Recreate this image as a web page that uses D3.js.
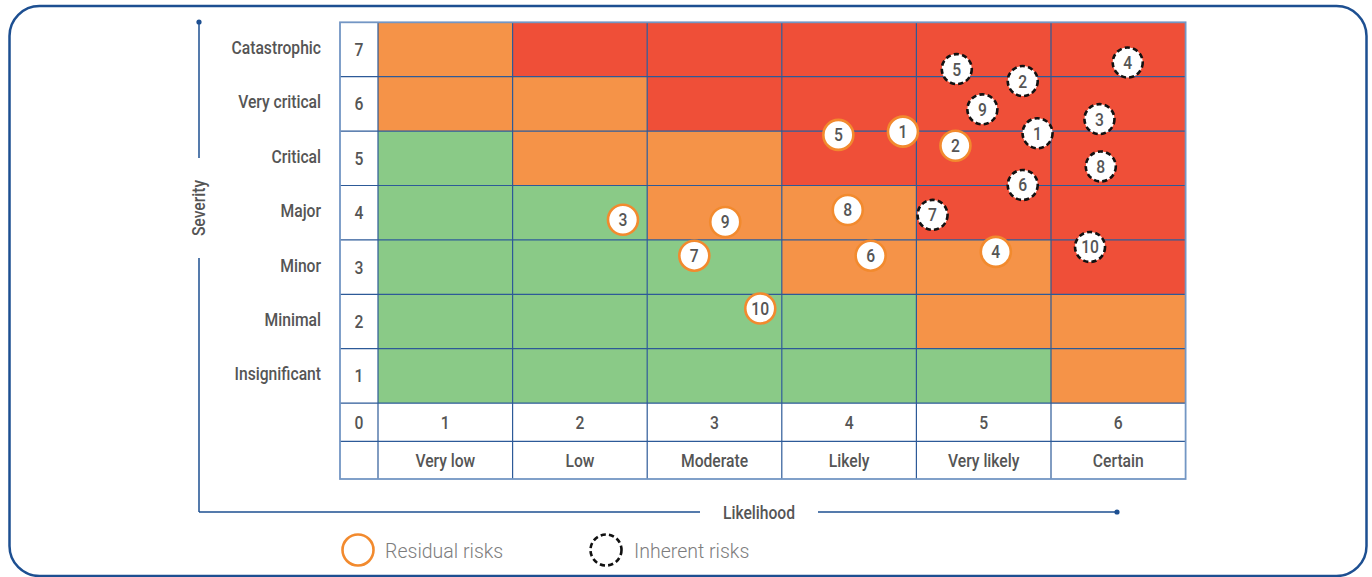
<!DOCTYPE html>
<html>
<head>
<meta charset="utf-8">
<script src="https://cdn.jsdelivr.net/npm/d3@7"></script>
<style>
  html, body { margin: 0; padding: 0; background: #fff; }
  svg { display: block; }
  text { font-family: "Roboto", "Liberation Sans", sans-serif; }
</style>
</head>
<body>
<svg id="chart" width="1372" height="577"></svg>
<script>
// Axis categories
const likelihoodLevels = [1, 2, 3, 4, 5, 6];
const likelihoodLabels = ["Very low", "Low", "Moderate", "Likely", "Very likely", "Certain"];
const severityLevels = [1, 2, 3, 4, 5, 6, 7];
const severityLabels = ["Insignificant", "Minimal", "Minor", "Major", "Critical", "Very critical", "Catastrophic"];

// Risk zone per cell, severity 1 (bottom) to 7 (top), likelihood 1..6
const zoneRows = [
  ["low", "low", "low", "low", "low", "medium"],
  ["low", "low", "low", "low", "medium", "medium"],
  ["low", "low", "low", "medium", "medium", "high"],
  ["low", "low", "medium", "medium", "high", "high"],
  ["low", "medium", "medium", "high", "high", "high"],
  ["medium", "medium", "high", "high", "high", "high"],
  ["medium", "high", "high", "high", "high", "high"]
];

// Residual risks (after mitigation)
const residualIds = [1, 2, 3, 4, 5, 6, 7, 8, 9, 10];
const residualLikelihood = [4.40, 4.79, 2.32, 5.09, 3.92, 4.16, 2.85, 3.99, 3.08, 3.34];
const residualSeverity = [5.49, 5.23, 3.87, 3.28, 5.43, 3.21, 3.21, 4.05, 3.83, 2.24];

// Inherent risks (before mitigation)
const inherentIds = [1, 2, 3, 4, 5, 6, 7, 8, 9, 10];
const inherentLikelihood = [5.40, 5.29, 5.86, 6.07, 4.80, 5.29, 4.62, 5.87, 4.99, 5.79];
const inherentSeverity = [5.46, 6.42, 5.72, 6.76, 6.64, 4.51, 3.96, 4.85, 5.90, 3.37];

const zoneColor = { low: "#8aca87", medium: "#f59348", high: "#ef4f38" };
const navy = "#1d4f91";
const gridLine = "#2d5a98";
const textGray = "#555";

const svg = d3.select("#chart");

// Condensed-looking label: text squeezed horizontally around its anchor
function label(parent, px, py, str, opts = {}) {
  const sx = opts.sx ?? 0.87;
  return parent.append("text")
    .attr("transform", `translate(${px},${py}) scale(${sx},1)`)
    .attr("text-anchor", opts.anchor ?? "middle")
    .attr("dy", "0.36em")
    .attr("font-size", opts.size ?? 18)
    .attr("font-weight", opts.weight ?? 500)
    .attr("fill", opts.fill ?? textGray)
    .text(str);
}

// Outer rounded frame
svg.append("rect")
  .attr("x", 9.5).attr("y", 6).attr("width", 1357).attr("height", 570)
  .attr("rx", 30).attr("ry", 30)
  .attr("fill", "none").attr("stroke", navy).attr("stroke-width", 2.5);

const gridLeft = 378, gridRight = 1185.6, gridTop = 22.3, gridBottom = 403.1;
const numColLeft = 340;
const numRowBottom = 441.3, labelRowBottom = 479;

const x = d3.scaleLinear().domain([0.5, 6.5]).range([gridLeft, gridRight]);
const y = d3.scaleLinear().domain([0.5, 7.5]).range([gridBottom, gridTop]);

// Zone cells
const cells = [];
zoneRows.forEach((row, si) => row.forEach((z, li) => cells.push({ s: severityLevels[si], l: likelihoodLevels[li], z })));
svg.append("g").selectAll("rect").data(cells).join("rect")
  .attr("x", d => x(d.l - 0.5))
  .attr("y", d => y(d.s + 0.5))
  .attr("width", d => x(d.l + 0.5) - x(d.l - 0.5))
  .attr("height", d => y(d.s - 0.5) - y(d.s + 0.5))
  .attr("fill", d => zoneColor[d.z]);

// Grid lines
const lines = svg.append("g").attr("stroke-width", 1.2).attr("fill", "none").attr("stroke", gridLine);
[gridLeft, ...likelihoodLevels.slice(0, -1).map(l => x(l + 0.5))].forEach(xx => {
  lines.append("line").attr("x1", xx).attr("x2", xx).attr("y1", gridTop).attr("y2", labelRowBottom);
});
[...severityLevels.slice(0, -1).map(s => y(s + 0.5)), gridBottom, numRowBottom].forEach(yy => {
  lines.append("line").attr("x1", numColLeft).attr("x2", gridRight).attr("y1", yy).attr("y2", yy);
});
// outer border
svg.append("rect")
  .attr("x", numColLeft).attr("y", gridTop)
  .attr("width", gridRight - numColLeft).attr("height", labelRowBottom - gridTop)
  .attr("fill", "none").attr("stroke", "#7396c4").attr("stroke-width", 1.8);

// Severity numbers and labels
const tg = svg.append("g");
severityLevels.forEach((s, i) => {
  label(tg, (numColLeft + gridLeft) / 2, y(s), s);
  label(tg, 321, y(s) - 2, severityLabels[i], { anchor: "end" });
});
label(tg, (numColLeft + gridLeft) / 2, (gridBottom + numRowBottom) / 2, 0);

// Likelihood numbers and labels
likelihoodLevels.forEach((l, i) => {
  label(tg, x(l), (gridBottom + numRowBottom) / 2, l);
  label(tg, x(l), (numRowBottom + labelRowBottom) / 2, likelihoodLabels[i]);
});

// Axis lines with end dots
const ax = svg.append("g").attr("stroke", navy).attr("stroke-width", 1.5).attr("fill", "none");
ax.append("line").attr("x1", 199).attr("x2", 199).attr("y1", 22).attr("y2", 158);
ax.append("line").attr("x1", 199).attr("x2", 199).attr("y1", 258).attr("y2", 512);
ax.append("line").attr("x1", 199).attr("x2", 700).attr("y1", 512).attr("y2", 512);
ax.append("line").attr("x1", 818).attr("x2", 1117).attr("y1", 512).attr("y2", 512);
svg.append("circle").attr("cx", 199).attr("cy", 22).attr("r", 2.6).attr("fill", navy);
svg.append("circle").attr("cx", 1117).attr("cy", 512).attr("r", 2.6).attr("fill", navy);
svg.append("text").attr("transform", "translate(199,208) rotate(-90) scale(0.87,1)")
  .attr("text-anchor", "middle").attr("dy", "0.36em").attr("font-size", 18)
  .attr("font-weight", 500).attr("fill", textGray)
  .text("Severity");
label(svg, 759, 513, "Likelihood");

// Risk markers
const R = 15;
function drawRisks(ids, lik, sev, stroke, dash) {
  const data = ids.map((id, i) => ({ id, l: lik[i], s: sev[i] }));
  const g = svg.append("g").selectAll("g").data(data).join("g")
    .attr("transform", d => `translate(${x(d.l)},${y(d.s)})`);
  g.append("circle").attr("r", R).attr("fill", "#fff")
    .attr("stroke", stroke).attr("stroke-width", 2.6)
    .attr("stroke-dasharray", dash);
  g.append("text").attr("transform", "scale(0.87,1)")
    .attr("text-anchor", "middle").attr("dy", "0.36em")
    .attr("font-size", 18).attr("font-weight", 500).attr("fill", textGray).text(d => d.id);
}
drawRisks(inherentIds, inherentLikelihood, inherentSeverity, "#111", "5.2 3.2");
drawRisks(residualIds, residualLikelihood, residualSeverity, "#f28a2e", null);

// Legend
const lg = svg.append("g");
lg.append("circle").attr("cx", 358).attr("cy", 550).attr("r", 15.5)
  .attr("fill", "#fff").attr("stroke", "#f28a2e").attr("stroke-width", 2.6);
label(lg, 385, 550, "Residual risks", { anchor: "start", size: 21, sx: 0.93, weight: 300, fill: "#7d7d7d" });
lg.append("circle").attr("cx", 606).attr("cy", 550).attr("r", 15.5)
  .attr("fill", "#fff").attr("stroke", "#111").attr("stroke-width", 2.6)
  .attr("stroke-dasharray", "5.2 3.2");
label(lg, 634, 550, "Inherent risks", { anchor: "start", size: 21, sx: 0.93, weight: 300, fill: "#7d7d7d" });
</script>
</body>
</html>
